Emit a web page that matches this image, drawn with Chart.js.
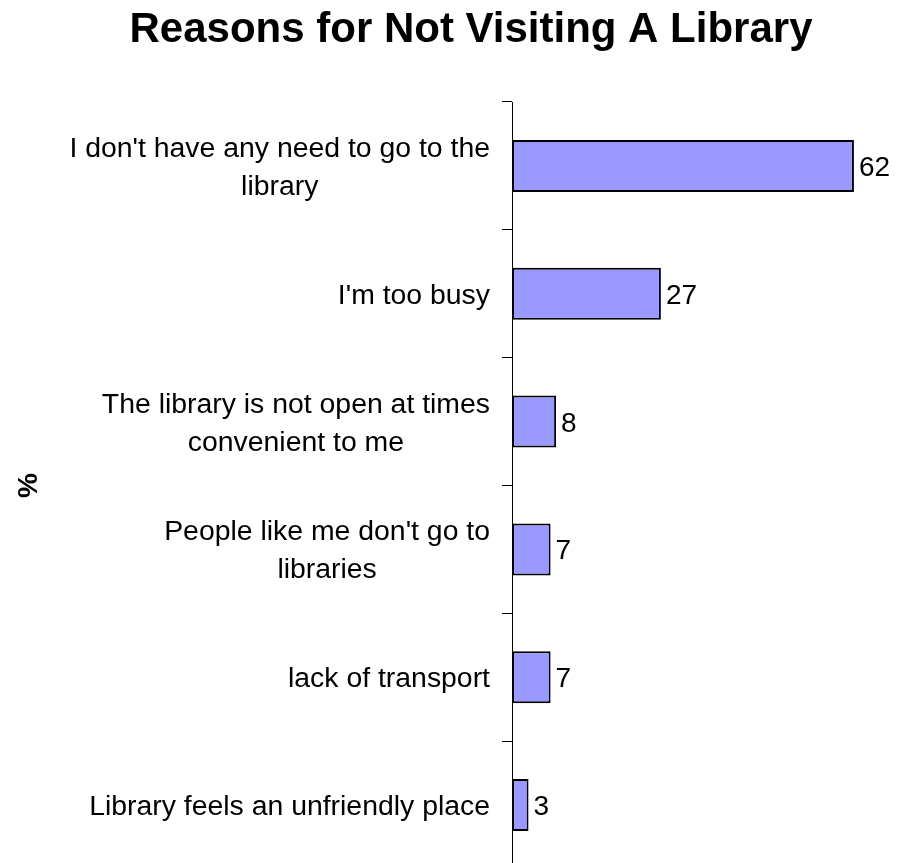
<!DOCTYPE html>
<html>
<head>
<meta charset="utf-8">
<title>Reasons for Not Visiting A Library</title>
<script src="https://cdn.jsdelivr.net/npm/chart.js@4"></script>
<style>
  html, body { margin: 0; padding: 0; background: #fff; overflow: hidden; }
  canvas { display: block; }
</style>
</head>
<body>
<canvas id="reasonsChart" width="898" height="870"></canvas>
<script>
const FONT = 'Arial, "Liberation Sans", sans-serif';

// survey answers, one label per bar (lines split where they wrap)
const reasons = [
  ["I don't have any need to go to the", "library"],
  ["I'm too busy"],
  ["The library is not open at times", "convenient to me"],
  ["People like me don't go to", "libraries"],
  ["lack of transport"],
  ["Library feels an unfriendly place"]
];
const percents = [62, 27, 8, 7, 7, 3];
const chartTitle = 'Reasons for Not Visiting A Library';
const axisTitle = '%';

// title sits a bit right of the canvas centre
const titlePlugin = {
  id: 'bigTitle',
  afterDraw(chart) {
    const ctx = chart.ctx;
    ctx.save();
    ctx.font = 'bold 42px ' + FONT;
    ctx.fillStyle = '#000';
    ctx.textAlign = 'center';
    ctx.textBaseline = 'alphabetic';
    ctx.fillText(chartTitle, 471, 42);
    ctx.restore();
  }
};

// category labels: block is right aligned against the axis, lines centred inside it
const reasonLabels = {
  id: 'reasonLabels',
  afterDraw(chart) {
    const ctx = chart.ctx;
    const yScale = chart.scales.y;
    const rightEdge = yScale.right - 10 - 12;
    const lineGap = 38;
    ctx.save();
    ctx.font = '28.4px ' + FONT;
    ctx.fillStyle = '#000';
    ctx.textAlign = 'center';
    ctx.textBaseline = 'alphabetic';
    reasons.forEach((lines, i) => {
      const cy = yScale.getPixelForTick(i);
      const widest = Math.max(...lines.map(l => ctx.measureText(l).width));
      const cx = rightEdge - widest / 2;
      const top = cy - (lines.length - 1) * lineGap / 2;
      lines.forEach((line, j) => {
        ctx.fillText(line, cx, top + j * lineGap + 10);
      });
    });
    ctx.restore();
  }
};

// value printed just past the end of each bar
const valueLabels = {
  id: 'valueLabels',
  afterDatasetsDraw(chart) {
    const ctx = chart.ctx;
    const meta = chart.getDatasetMeta(0);
    ctx.save();
    ctx.font = '28px ' + FONT;
    ctx.fillStyle = '#000';
    ctx.textAlign = 'left';
    ctx.textBaseline = 'alphabetic';
    meta.data.forEach((bar, i) => {
      ctx.fillText(String(percents[i]), bar.x + 5, bar.y + 10);
    });
    ctx.restore();
  }
};

const ctx = document.getElementById('reasonsChart').getContext('2d');

new Chart(ctx, {
  type: 'bar',
  data: {
    labels: reasons,
    datasets: [{
      data: percents,
      backgroundColor: '#9999ff',
      borderColor: '#000',
      borderWidth: 2,
      borderSkipped: false,
      barPercentage: 0.407,
      categoryPercentage: 1
    }]
  },
  options: {
    indexAxis: 'y',
    responsive: false,
    animation: false,
    devicePixelRatio: 1,
    layout: {
      padding: { top: 102, right: 0, bottom: 1, left: 0 }
    },
    scales: {
      x: {
        display: false,
        min: 0,
        max: 70
      },
      y: {
        afterFit(scale) { scale.width = 512; },
        ticks: { display: false },
        grid: {
          offset: true,
          drawOnChartArea: false,
          drawTicks: true,
          tickLength: 10,
          color: '#000',
          lineWidth: 1
        },
        border: { display: true, color: '#000', width: 1 },
        title: {
          display: true,
          text: axisTitle,
          color: '#000',
          font: { family: FONT, size: 28, weight: 'bold', lineHeight: 1.2 },
          padding: { top: 12, bottom: 0 }
        }
      }
    },
    plugins: {
      legend: { display: false },
      title: { display: false },
      tooltip: { enabled: false }
    }
  },
  plugins: [titlePlugin, reasonLabels, valueLabels]
});
</script>
</body>
</html>
